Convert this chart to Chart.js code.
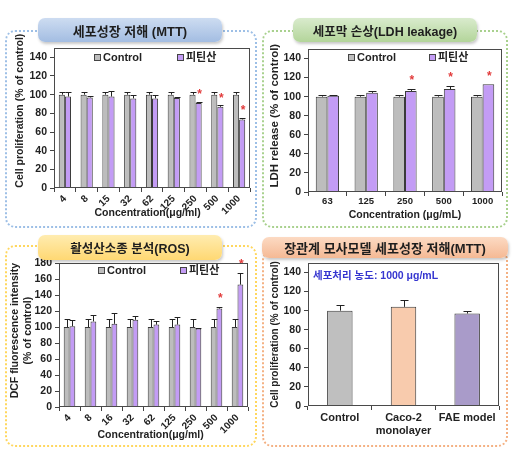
<!DOCTYPE html>
<html>
<head>
<meta charset="utf-8">
<script src="https://cdn.jsdelivr.net/npm/chart.js@4.4.1/dist/chart.umd.min.js"></script>
<style>
html,body{margin:0;padding:0;background:#fff;width:527px;height:465px;overflow:hidden;font-family:'Liberation Sans','Noto Sans CJK KR',sans-serif;}
.frame{position:absolute;border:2px dotted;border-radius:10px;box-sizing:border-box;z-index:0;}
.tab{position:absolute;border-radius:7px;box-sizing:border-box;font-weight:bold;color:#1e1e1e;display:flex;align-items:center;justify-content:center;box-shadow:1px 2px 3px rgba(0,0,0,0.22);z-index:3;white-space:nowrap;}
canvas{position:absolute;z-index:1;}
</style>
</head>
<body>
<div class="frame" style="left:5px;top:30px;width:252px;height:198px;border-color:#9dbfe6;"></div>
<div class="frame" style="left:262px;top:30px;width:246px;height:198px;border-color:#a9d18e;"></div>
<div class="frame" style="left:5px;top:245px;width:252px;height:202px;border-color:#ffd75e;"></div>
<div class="frame" style="left:262px;top:250px;width:246px;height:197px;border-color:#f4b183;"></div>

<canvas id="c1" width="252" height="198" style="left:5px;top:30px;"></canvas>
<canvas id="c2" width="246" height="198" style="left:262px;top:30px;"></canvas>
<canvas id="c3" width="252" height="200" style="left:5px;top:247px;"></canvas>
<canvas id="c4" width="246" height="195" style="left:262px;top:252px;"></canvas>

<div class="tab" id="t1" style="left:38px;top:18px;width:184px;height:24px;font-size:13px;background:linear-gradient(#cddcf1,#a3bde2);"></div>
<div class="tab" id="t2" style="left:293px;top:18px;width:184px;height:24px;font-size:12.5px;background:linear-gradient(#d9ebcd,#b3d59a);"></div>
<div class="tab" id="t3" style="left:38px;top:235px;width:184px;height:25px;font-size:12.5px;background:linear-gradient(#ffecb0,#ffd873);"></div>
<div class="tab" id="t4" style="left:262px;top:237px;width:246px;height:21px;font-size:13px;background:linear-gradient(#fcdac3,#f5b994);"></div>

<script>
const FONT = "'Liberation Sans','Noto Sans CJK KR',sans-serif";

// ---------- titles ----------
const panelTitles = ['세포성장 저해 (MTT)', '세포막 손상(LDH leakage)', '활성산소종 분석(ROS)', '장관계 모사모델 세포성장 저해(MTT)'];
const seriesNames = ['Control', '피틴산'];

// ---------- Panel 1: MTT ----------
const mttLabels = ['4','8','15','32','62','125','250','500','1000'];
const mttControl = [100,100,100,100,100,100,100,100,100];
const mttControlErr = [3,3,3,3,3,3,3,3,3];
const mttPhytic = [98,97,98,96,96,96.5,91,87,73.5];
const mttPhyticErr = [4.5,2,6,3.5,4,0.5,1,1.5,2];
const mttSig = [0,0,0,0,0,0,1,1,1];

// ---------- Panel 2: LDH ----------
const ldhLabels = ['63','125','250','500','1000'];
const ldhControl = [100,100,100,100,100];
const ldhControlErr = [2,2,2,2,2];
const ldhPhytic = [101,104,106,108,113];
const ldhPhyticErr = [1,2,2,3,0];
const ldhSig = [0,0,1,1,1];

// ---------- Panel 3: ROS ----------
const rosLabels = ['4','8','16','32','62','125','250','500','1000'];
const rosControl = [100,100,100,100,100,100,100,100,100];
const rosControlErr = [10,10,10,10,10,10,10,10,10];
const rosPhytic = [101,107,104,109,103,103,98,123,153];
const rosPhyticErr = [8,8,13,5,4,10,1,2,15];
const rosSig = [0,0,0,0,0,0,0,1,1];

// ---------- Panel 4: gut model ----------
const gutLabels = [['Control'], ['Caco-2','monolayer'], ['FAE model']];
const gutValues = [100,104,97];
const gutErr = [6,7,3];
const gutNote = '세포처리 농도: 1000 μg/mL';

['t1','t2','t3','t4'].forEach((id,i)=>{ document.getElementById(id).textContent = panelTitles[i]; });

Chart.defaults.font.family = FONT;
Chart.defaults.color = '#222';

const GRAY = '#bdbdbd', PURPLE = '#c39cf5';

const framePlugin = {
  id: 'frameBox',
  afterDraw(chart) {
    const {ctx, chartArea: a} = chart;
    ctx.save();
    ctx.strokeStyle = '#4a4a4a';
    ctx.lineWidth = 1;
    ctx.strokeRect(Math.round(a.left) + 0.5, Math.round(a.top) + 0.5, Math.round(a.right - a.left) - 1, Math.round(a.bottom - a.top) - 1);
    ctx.restore();
  }
};

const errPlugin = {
  id: 'errBars',
  afterDatasetsDraw(chart, args, opts) {
    if (!opts.errors) return;
    const {ctx} = chart; const ys = chart.scales.y;
    ctx.save();
    ctx.strokeStyle = '#222'; ctx.lineWidth = 1;
    opts.errors.forEach((errs, di) => {
      if (!errs) return;
      const meta = chart.getDatasetMeta(di);
      meta.data.forEach((bar, i) => {
        const e = errs[i]; if (!e) return;
        const v = chart.data.datasets[di].data[i];
        const yTop = Math.round(ys.getPixelForValue(v + e)) + 0.5;
        const x = Math.round(bar.x) + 0.5;
        const half = Math.min(bar.width * 0.5, opts.cap || 4);
        ctx.beginPath();
        ctx.moveTo(x, bar.y); ctx.lineTo(x, yTop);
        ctx.moveTo(x - half, yTop); ctx.lineTo(x + half, yTop);
        ctx.stroke();
      });
    });
    ctx.restore();
  }
};

const starPlugin = {
  id: 'stars',
  afterDatasetsDraw(chart, args, opts) {
    if (!opts.flags) return;
    const {ctx} = chart; const ys = chart.scales.y;
    const meta = chart.getDatasetMeta(opts.dataset);
    ctx.save();
    ctx.fillStyle = '#e23b3b';
    ctx.font = 'bold 12px ' + FONT;
    ctx.textAlign = 'center'; ctx.textBaseline = 'middle';
    meta.data.forEach((bar, i) => {
      if (!opts.flags[i]) return;
      const v = chart.data.datasets[opts.dataset].data[i] + (opts.errs[i] || 0);
      ctx.fillText('*', bar.x + 1, ys.getPixelForValue(v) - opts.gap);
    });
    ctx.restore();
  }
};

const legendPlugin = {
  id: 'innerLegend',
  afterDraw(chart, args, opts) {
    if (!opts.pos) return;
    const {ctx, chartArea: a} = chart;
    ctx.save();
    ctx.font = 'bold 11px ' + FONT;
    ctx.textBaseline = 'middle';
    chart.data.datasets.forEach((ds, i) => {
      const x = Math.round(a.left + (a.right - a.left) * opts.pos[i]);
      const y = Math.round(a.top + opts.dy);
      ctx.fillStyle = ds.backgroundColor;
      ctx.fillRect(x, y - 3, 6, 6);
      ctx.strokeStyle = '#444'; ctx.lineWidth = 1;
      ctx.strokeRect(x + 0.5, y - 2.5, 6, 6);
      ctx.fillStyle = '#222';
      ctx.fillText(ds.label, x + 9, y + 0.5);
    });
    ctx.restore();
  }
};

const notePlugin = {
  id: 'note',
  afterDraw(chart, args, opts) {
    if (!opts.text) return;
    const {ctx, chartArea: a} = chart;
    ctx.save();
    ctx.font = 'bold 10.5px ' + FONT;
    ctx.fillStyle = opts.color;
    ctx.textBaseline = 'middle';
    ctx.fillText(opts.text, a.left + opts.dx, a.top + opts.dy);
    ctx.restore();
  }
};

function build(id, o) {
  return new Chart(document.getElementById(id), {
    type: 'bar',
    data: { labels: o.labels, datasets: o.datasets },
    plugins: [framePlugin, errPlugin, starPlugin, legendPlugin, notePlugin],
    options: {
      responsive: false, animation: false, devicePixelRatio: 1,
      layout: { padding: o.pad },
      datasets: { bar: { categoryPercentage: o.cat, barPercentage: 1, borderWidth: 1, borderColor: '#3a3a3a' } },
      plugins: {
        legend: { display: false }, tooltip: { enabled: false },
        errBars: { errors: o.errors, cap: o.cap },
        stars: o.stars || {},
        innerLegend: o.legend || {},
        note: o.note || {}
      },
      scales: {
        x: {
          grid: { display: true, drawOnChartArea: false, drawTicks: true, tickLength: 4, color: '#444', offset: true },
          border: { display: false },
          ticks: { autoSkip: false, maxRotation: o.rot, minRotation: o.rot, padding: o.xPad, color: '#222',
                   font: { size: o.xFont, weight: 'bold', family: FONT } },
          title: { display: !!o.xTitle, text: o.xTitle || '', color: '#222',
                   font: { size: 10.5, weight: 'bold', family: FONT }, padding: { top: 0, bottom: o.xTitlePad } },
          afterFit: s => { s.height = o.xH; s.paddingLeft = 0; s.paddingRight = 0; }
        },
        y: {
          min: 0, max: o.yMax, bounds: 'data',
          grid: { display: true, drawOnChartArea: false, drawTicks: true, tickLength: 4, color: '#444' },
          border: { display: false },
          ticks: { stepSize: 20, includeBounds: false, padding: 3, color: '#222',
                   font: { size: o.yFont, weight: 'bold', family: FONT } },
          afterBuildTicks: s => { s.ticks = s.ticks.filter(t => t.value <= o.yTickMax); },
          title: { display: true, text: o.yTitle, color: '#222',
                   font: { size: o.yTitleFont, weight: 'bold', family: FONT }, padding: { top: o.yTitlePad, bottom: 0 } },
          afterFit: s => { s.width = o.yW; s.paddingTop = 0; s.paddingBottom = 0; }
        }
      }
    }
  });
}

function pair(c, p) {
  return [
    { label: seriesNames[0], data: c, backgroundColor: GRAY },
    { label: seriesNames[1], data: p, backgroundColor: PURPLE }
  ];
}

// Panel 1: canvas top 30 -> plot 48..188
build('c1', {
  labels: mttLabels, datasets: pair(mttControl, mttPhytic),
  errors: [mttControlErr, mttPhyticErr], cap: 3,
  stars: { dataset: 1, flags: mttSig, errs: mttPhyticErr, gap: 7 },
  legend: { pos: [0.205, 0.625], dy: 9 },
  pad: { top: 18, right: 7, left: 0, bottom: 0 }, cat: 0.56, rot: 45, xPad: 1, xFont: 10,
  xTitle: 'Concentration(μg/ml)   ', xTitlePad: 9, xH: 40,
  yMax: 150, yTickMax: 140, yFont: 10.5, yTitle: '     Cell proliferation (% of control)', yTitleFont: 10.5, yTitlePad: 9, yW: 49
});

// Panel 2: canvas top 30 -> plot 49..192
build('c2', {
  labels: ldhLabels, datasets: pair(ldhControl, ldhPhytic),
  errors: [ldhControlErr, ldhPhyticErr], cap: 4,
  stars: { dataset: 1, flags: ldhSig, errs: ldhPhyticErr, gap: 8 },
  legend: { pos: [0.205, 0.625], dy: 8 },
  pad: { top: 19, right: 6, left: 0, bottom: 0 }, cat: 0.6, rot: 0, xPad: 0, xFont: 9.5,
  xTitle: 'Concentration (μg/mL)', xTitlePad: 7, xH: 36,
  yMax: 150, yTickMax: 140, yFont: 10.5, yTitle: '   LDH release (% of control)', yTitleFont: 11.5, yTitlePad: 6, yW: 46
});

// Panel 3: canvas top 247 -> plot 263..407
build('c3', {
  labels: rosLabels, datasets: pair(rosControl, rosPhytic),
  errors: [rosControlErr, rosPhyticErr], cap: 3,
  stars: { dataset: 1, flags: rosSig, errs: rosPhyticErr, gap: 8 },
  legend: { pos: [0.205, 0.64], dy: 7 },
  pad: { top: 16, right: 9, left: 0, bottom: 0 }, cat: 0.55, rot: 45, xPad: 1, xFont: 10,
  xTitle: 'Concentration(μg/ml)  ', xTitlePad: 6, xH: 40,
  yMax: 180, yTickMax: 180, yFont: 10.5, yTitle: ['   DCF fluorescence intensity', '   (% of control)'], yTitleFont: 10.5, yTitlePad: 4, yW: 54
});

// Panel 4: canvas top 252 -> plot 263..406
build('c4', {
  labels: gutLabels,
  datasets: [{ label: 'Cell proliferation', data: gutValues, backgroundColor: ['#bfbfbf', '#f8cbad', '#a99bc9'] }],
  errors: [gutErr], cap: 4,
  note: { text: gutNote, color: '#3636d0', dx: 5, dy: 13 },
  pad: { top: 11, right: 9, left: 0, bottom: 0 }, cat: 0.4, rot: 0, xPad: 1, xFont: 11,
  xTitle: '', xTitlePad: 0, xH: 41,
  yMax: 150, yTickMax: 140, yFont: 10.5, yTitle: 'Cell proliferation (% of control)', yTitleFont: 10, yTitlePad: 7, yW: 46
});
</script>
</body>
</html>
